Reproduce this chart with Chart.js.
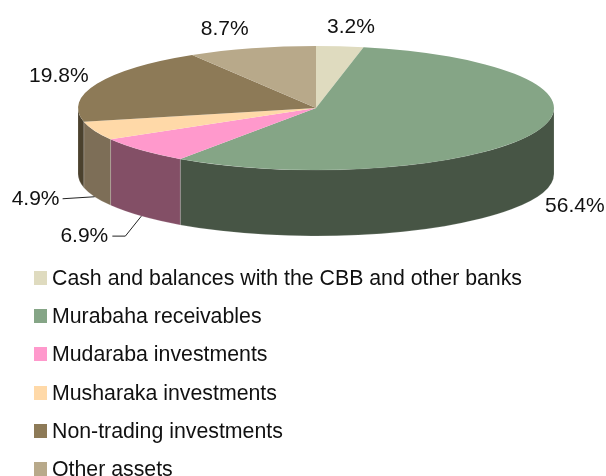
<!DOCTYPE html>
<html>
<head>
<meta charset="utf-8">
<script src="https://cdn.jsdelivr.net/npm/chart.js@4/dist/chart.umd.js"></script>
<style>
    html, body {margin: 0; padding: 0; background: #fff; overflow: hidden;}
    #wrap {position: relative; width: 606px; height: 476px; overflow: hidden;}
    #legend {position: absolute; left: 34px; top: 259px; font: 21.3px "Liberation Sans", Arial, sans-serif; color: #111;}
    #legend div {height: 38.2px; line-height: 38.2px; white-space: nowrap; position: relative; padding-left: 18px;}
    #legend i {position: absolute; left: 0; top: 12px; width: 13px; height: 14px;}
</style>
</head>
<body>
<div id="wrap">
    <canvas id="pie" width="606" height="476"></canvas>
    <div id="legend"></div>
</div>
<script>
const categories = [
    'Cash and balances with the CBB and other banks',
    'Murabaha receivables',
    'Mudaraba investments',
    'Musharaka investments',
    'Non-trading investments',
    'Other assets'
];
const shares = [3.2, 56.4, 6.9, 4.9, 19.8, 8.7];
const topColors = ['#dfdbbf', '#85a586', '#ff99cc', '#ffd9a8', '#8d7a57', '#b8a98a'];
const wallColors = ['#6f6d5f', '#475545', '#834f66', '#7d6e57', '#4b412e', '#5c5445'];

// look of the tilted disc, in pixels
const discY = 108;
const discRy = 62;
const wallDepth = 66;

// label position relative to the rim (or the wall foot) at the middle of the slice
const labelOffsets = [[11, -19], [40, 8], [-57, 20], [-59, 2], [-38, -8], [-27, -19]];
const wallFoot = [false, true, true, true, false, false];

const tiltPlugin = {
    id: 'tilt',
    beforeDatasetsDraw(chart) {
        const ctx = chart.ctx;
        const arcs = chart.getDatasetMeta(0).data;
        const {x, y, outerRadius} = arcs[0];

        arcs.forEach((arc, i) => {
            // only the front half of the wall can be seen
            const a = Math.max(arc.startAngle, 0);
            const b = Math.min(arc.endAngle, Math.PI);
            if (a >= b) return;
            ctx.beginPath();
            ctx.ellipse(x, discY, outerRadius, discRy, 0, a, b);
            ctx.ellipse(x, discY + wallDepth, outerRadius, discRy, 0, b, a, true);
            ctx.closePath();
            ctx.fillStyle = wallColors[i];
            ctx.fill();
            ctx.strokeStyle = 'rgba(255,255,255,0.25)';
            ctx.lineWidth = 0.6;
            ctx.stroke();
        });

        ctx.save();
        ctx.translate(0, discY);
        ctx.scale(1, discRy / outerRadius);
        ctx.translate(0, -y);
    },
    afterDatasetsDraw(chart) {
        const ctx = chart.ctx;
        ctx.restore();

        const arcs = chart.getDatasetMeta(0).data;
        ctx.font = '21px "Liberation Sans", Arial, sans-serif';
        ctx.textAlign = 'center';
        ctx.textBaseline = 'middle';
        ctx.strokeStyle = '#222';
        ctx.lineWidth = 1;

        arcs.forEach((arc, i) => {
            const mid = (arc.startAngle + arc.endAngle) / 2;
            const rimX = arc.x + arc.outerRadius * Math.cos(mid);
            const rimY = discY + discRy * Math.sin(mid) + (wallFoot[i] ? wallDepth : 0);
            const lx = rimX + labelOffsets[i][0];
            const ly = rimY + labelOffsets[i][1];

            if (i === 2) {
                // elbow leader
                ctx.beginPath();
                ctx.moveTo(rimX, rimY);
                ctx.lineTo(rimX - 16, ly);
                ctx.lineTo(lx + 28, ly);
                ctx.stroke();
            }
            if (i === 3) {
                ctx.beginPath();
                ctx.moveTo(rimX, rimY);
                ctx.lineTo(lx + 27, ly);
                ctx.stroke();
            }
            ctx.fillStyle = '#111';
            ctx.fillText(shares[i].toFixed(1) + '%', lx, ly);
        });
    }
};

new Chart(document.getElementById('pie'), {
    type: 'pie',
    data: {
        labels: categories,
        datasets: [{data: shares, backgroundColor: topColors, borderWidth: 0}]
    },
    options: {
        responsive: false,
        animation: false,
        layout: {padding: {left: 78, right: 52, top: 0, bottom: 0}},
        plugins: {legend: {display: false}, tooltip: {enabled: false}}
    },
    plugins: [tiltPlugin]
});

// legend
const legend = document.getElementById('legend');
categories.forEach((name, i) => {
    const row = document.createElement('div');
    const box = document.createElement('i');
    box.style.background = topColors[i];
    row.appendChild(box);
    row.appendChild(document.createTextNode(name));
    legend.appendChild(row);
});
</script>
</body>
</html>
